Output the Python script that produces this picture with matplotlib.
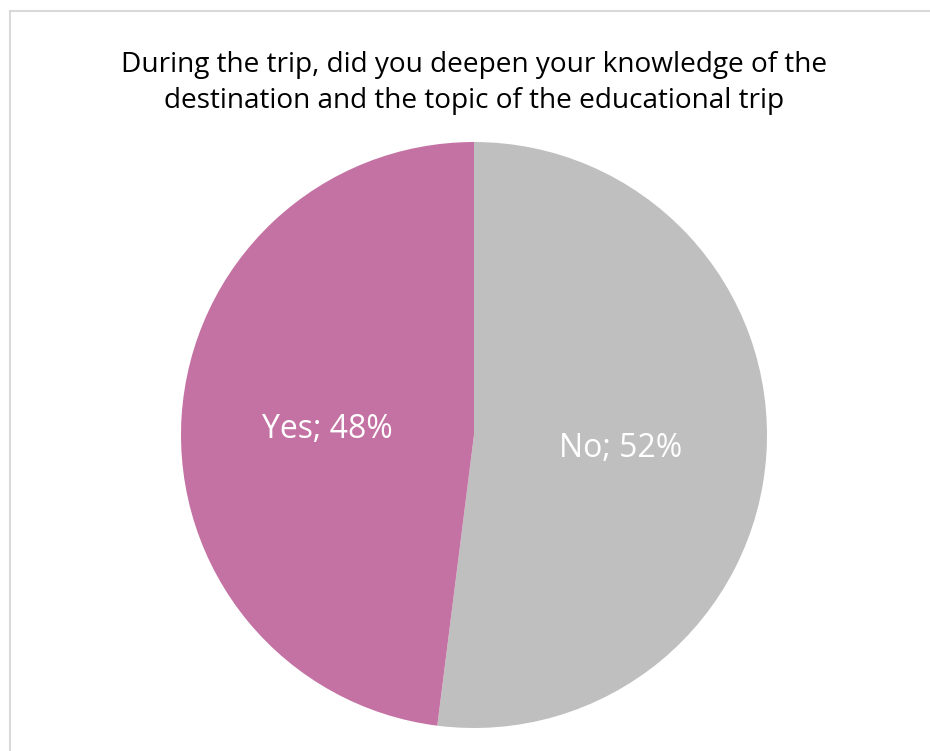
import matplotlib.pyplot as plt
from matplotlib.lines import Line2D

title = 'During the trip, did you deepen your knowledge of the\ndestination and the topic of the educational trip'
labels = ['No', 'Yes']
shares = [52, 48]
colors = ['#BFBFBF', '#C472A3']

W, H = 930, 751
fig = plt.figure(figsize=(W / 100, H / 100), dpi=100)

# light frame on top/left like the office chart border
fig.add_artist(Line2D([9.5 / W, 9.5 / W], [0, 1 - 11 / H], transform=fig.transFigure, color='#D9D9D9', lw=1.5))
fig.add_artist(Line2D([9.5 / W, 1], [1 - 11 / H, 1 - 11 / H], transform=fig.transFigure, color='#D9D9D9', lw=1.5))

cx, cy, r = 474, 435, 293
ax = fig.add_axes([(cx - r) / W, 1 - (cy + r) / H, 2 * r / W, 2 * r / H])
wedges, texts = ax.pie(shares, labels=[f'{l}; {s}%' for l, s in zip(labels, shares)],
                       colors=colors, startangle=90, counterclock=False,
                       labeldistance=0.5, radius=1,
                       textprops=dict(color='white', fontsize=23, family='Open Sans'))
for t in texts:
    t.set_ha('center')
    t.set_va('center_baseline')
ax.set_xlim(-1, 1)
ax.set_ylim(-1, 1)
ax.set_aspect('equal')
ax.axis('off')

fig.text(474 / W, 1 - 83 / H, title, ha='center', va='center', fontsize=20.2,
         family='Open Sans', color='#000000', linespacing=1.35)

plt.savefig('out.png', dpi=100)
